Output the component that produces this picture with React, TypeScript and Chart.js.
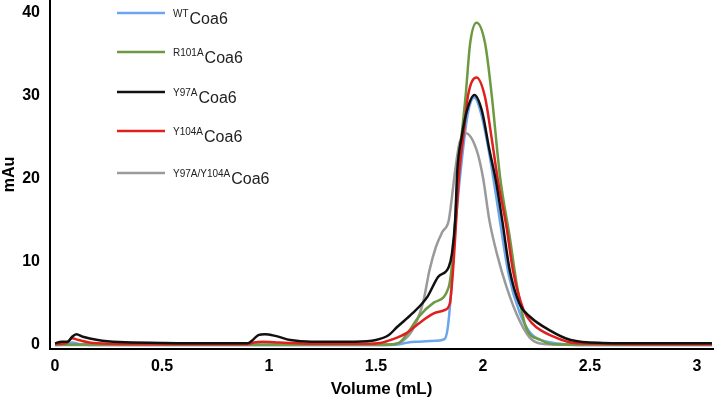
import React, { useEffect, useRef } from "react";
import { Chart, registerables } from "chart.js";

Chart.register(...registerables);

// ---- Data ----
const SERIES_NAMES = ["WT", "R101A", "Y97A", "Y104A", "Y97A/Y104A"];
const SERIES_SUFFIX = "Coa6";
const SERIES_COLORS = ["#6AA5EE", "#6C9A42", "#111111", "#E0201E", "#9A9A9A"];

const WT_X = [0, 0.05, 0.08, 0.12, 0.2, 1, 1.55, 1.6, 1.65, 1.7, 1.78, 1.82, 1.835, 1.85, 1.87, 1.9, 1.93, 1.96, 1.99, 2.03, 2.07, 2.12, 2.17, 2.22, 2.3, 2.5, 3.07];
const WT_Y = [0, 0.05, 0.3, 0.1, 0, 0, 0, 0.05, 0.3, 0.4, 0.5, 0.7, 2, 6, 14, 22, 28, 29.8, 28, 23, 16.5, 8.5, 4, 1.5, 0.4, 0, 0];

const R101A_X = [0, 0.5, 1, 1.5, 1.58, 1.61, 1.65, 1.7, 1.77, 1.84, 1.86, 1.885, 1.92, 1.94, 1.97, 2.01, 2.04, 2.08, 2.125, 2.16, 2.2, 2.27, 2.33, 2.6, 3.07];
const R101A_Y = [0.05, 0.05, 0.05, 0.05, 0.1, 0.3, 1.5, 3.4, 5.1, 7, 11, 21, 30.3, 36.3, 38.8, 36.3, 30.3, 20.2, 13, 7, 2.2, 0.6, 0.1, 0.05, 0.05];

const Y97A_X = [0, 0.03, 0.06, 0.08, 0.1, 0.13, 0.2, 0.3, 0.5, 0.7, 0.9, 0.92, 0.95, 0.98, 1.03, 1.1, 1.2, 1.4, 1.5, 1.56, 1.6, 1.67, 1.74, 1.79, 1.84, 1.855, 1.87, 1.88, 1.9, 1.925, 1.96, 1.995, 2.03, 2.06, 2.09, 2.125, 2.17, 2.22, 2.31, 2.41, 2.56, 2.8, 3.07];
const Y97A_Y = [0.2, 0.4, 0.4, 1.0, 1.3, 1.0, 0.6, 0.35, 0.25, 0.2, 0.2, 0.5, 1.2, 1.3, 1.1, 0.6, 0.4, 0.4, 0.6, 1.2, 2.2, 3.8, 5.8, 8.2, 9.4, 11, 15, 21, 25, 28.2, 30.1, 28.2, 23.5, 19.8, 15, 9, 5, 3.4, 1.8, 0.6, 0.25, 0.2, 0.2];

const Y104A_X = [0, 0.05, 0.08, 0.11, 0.16, 0.25, 0.5, 0.9, 0.93, 0.97, 1.05, 1.2, 1.45, 1.52, 1.58, 1.64, 1.7, 1.77, 1.82, 1.845, 1.86, 1.89, 1.91, 1.93, 1.97, 2.01, 2.04, 2.07, 2.11, 2.14, 2.19, 2.23, 2.33, 2.44, 2.7, 3.07];
const Y104A_Y = [0.1, 0.2, 0.8, 0.6, 0.3, 0.15, 0.1, 0.1, 0.3, 0.4, 0.3, 0.15, 0.15, 0.25, 0.7, 1.4, 2.6, 3.8, 4.2, 5, 9, 21, 25.5, 30, 32.2, 29.8, 25, 19.8, 14.2, 9, 4.2, 2.6, 1, 0.2, 0.1, 0.1];

const DOUBLE_X = [0, 0.5, 1, 1.5, 1.58, 1.62, 1.67, 1.72, 1.75, 1.78, 1.81, 1.84, 1.855, 1.87, 1.89, 1.92, 1.97, 2.0, 2.03, 2.065, 2.11, 2.17, 2.23, 2.3, 2.6, 3.07];
const DOUBLE_Y = [0, 0, 0, 0, 0.1, 0.4, 1.8, 5.1, 9, 11.8, 13.6, 15, 17.8, 21, 24.3, 25.5, 23.5, 20.2, 15, 11, 7, 3, 0.6, 0.1, 0, 0];

const X_TICKS = [0, 0.5, 1, 1.5, 2, 2.5, 3];
const X_TICK_LABELS = ["0", "0.5", "1", "1.5", "2", "2.5", "3"];
const Y_TICKS = [0, 10, 20, 30, 40];
const Y_TICK_LABELS = ["0", "10", "20", "30", "40"];

const X_TITLE = "Volume (mL)";
const Y_TITLE = "mAu";

const SERIES_X = [WT_X, R101A_X, Y97A_X, Y104A_X, DOUBLE_X];
const SERIES_Y = [WT_Y, R101A_Y, Y97A_Y, Y104A_Y, DOUBLE_Y];
const DRAW_ORDER = [4, 2, 0, 1, 3];

const FONT = '"Liberation Sans", Arial, Helvetica, sans-serif';

const legendPlugin = {
  id: "customLegend",
  afterDraw(chart: any) {
    const ctx = chart.ctx as CanvasRenderingContext2D;
    const rows = [13, 52, 92, 131, 173];
    ctx.save();
    SERIES_NAMES.forEach((name, i) => {
      const y = rows[i];
      ctx.strokeStyle = SERIES_COLORS[i];
      ctx.lineWidth = 2.5;
      ctx.beginPath();
      ctx.moveTo(117, y);
      ctx.lineTo(165, y);
      ctx.stroke();
      ctx.fillStyle = "#222";
      ctx.textAlign = "left";
      ctx.textBaseline = "alphabetic";
      ctx.font = `10px ${FONT}`;
      ctx.fillText(name, 173, y + 4);
      const w = ctx.measureText(name).width;
      ctx.font = `16px ${FONT}`;
      ctx.fillText(SERIES_SUFFIX, 173 + w + 1, y + 11);
    });
    ctx.restore();
  },
};

export default function App() {
  const ref = useRef<HTMLCanvasElement>(null);

  useEffect(() => {
    if (!ref.current) return;
    const datasets = SERIES_NAMES.map((name, i) => ({
      label: name + SERIES_SUFFIX,
      data: SERIES_X[i].map((x, j) => ({ x, y: SERIES_Y[i][j] })),
      borderColor: SERIES_COLORS[i],
      backgroundColor: SERIES_COLORS[i],
      borderWidth: 2.5,
      pointRadius: 0,
      fill: false,
      cubicInterpolationMode: "monotone" as const,
      order: DRAW_ORDER[i],
    }));

    const chart = new Chart(ref.current, {
      type: "line",
      data: { datasets },
      options: {
        animation: false,
        responsive: true,
        maintainAspectRatio: false,
        layout: { padding: { top: 0, right: 4, left: 0, bottom: 0 } },
        plugins: { legend: { display: false }, tooltip: { enabled: false } },
        scales: {
          x: {
            type: "linear",
            min: -0.0234,
            max: 3.075,
            grid: { display: false, drawTicks: false },
            border: { display: true, color: "#000", width: 2 },
            ticks: {
              color: "#000",
              padding: 8,
              maxRotation: 0,
              autoSkip: false,
              font: { family: FONT, size: 16, weight: "bold" },
              callback: (v: any) => {
                const k = X_TICKS.indexOf(Number(v));
                return k >= 0 ? X_TICK_LABELS[k] : "";
              },
            },
            afterBuildTicks: (s: any) => {
              s.ticks = X_TICKS.map((v) => ({ value: v }));
            },
            afterFit: (s: any) => {
              s.height = 59;
              s.paddingLeft = 0;
              s.paddingRight = 0;
            },
            title: {
              display: true,
              text: X_TITLE,
              color: "#000",
              font: { family: FONT, size: 17, weight: "bold" },
              padding: { top: 0, bottom: 8 },
            },
          },
          y: {
            type: "linear",
            min: -0.48,
            max: 41.53,
            grid: { display: false, drawTicks: false },
            border: { display: true, color: "#000", width: 2 },
            ticks: {
              color: "#000",
              padding: 10,
              font: { family: FONT, size: 16, weight: "bold" },
              callback: (v: any) => {
                const k = Y_TICKS.indexOf(Number(v));
                return k >= 0 ? Y_TICK_LABELS[k] : "";
              },
            },
            afterBuildTicks: (s: any) => {
              s.ticks = Y_TICKS.map((v) => ({ value: v }));
            },
            afterFit: (s: any) => {
              s.width = 50;
              s.paddingTop = 0;
              s.paddingBottom = 0;
            },
            title: {
              display: true,
              text: Y_TITLE,
              color: "#000",
              font: { family: FONT, size: 16, weight: "bold" },
              padding: { top: 0, bottom: 0 },
            },
          },
        },
      },
      plugins: [legendPlugin],
    });
    return () => chart.destroy();
  }, []);

  return (
    <div style={{ position: "absolute", left: 0, top: 0, width: 717, height: 408, background: "#fff" }}>
      <canvas ref={ref} />
    </div>
  );
}
